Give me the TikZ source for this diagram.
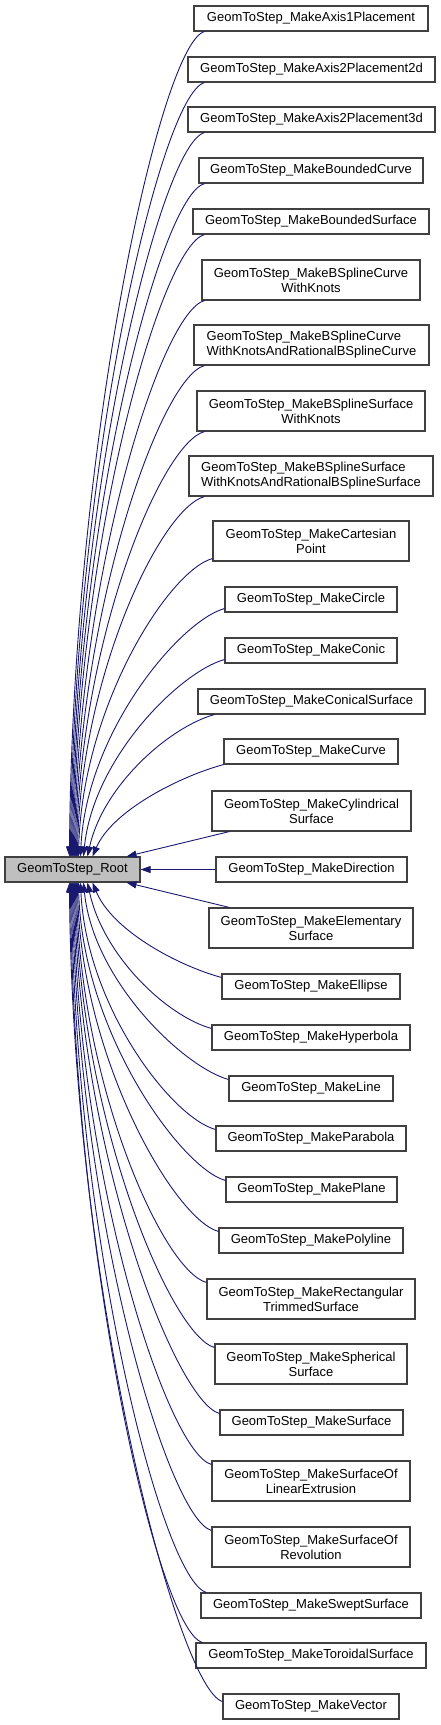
\documentclass[tikz,border=0pt]{standalone}
\usepackage{fontspec}
\setmainfont{Liberation Sans}
\usetikzlibrary{arrows.meta,calc}
\definecolor{edgeblue}{RGB}{25,25,112}
\definecolor{boxline}{RGB}{64,64,64}
\definecolor{rootfill}{RGB}{191,191,191}
\newcommand{\gbox}[7][]{\node[box,#1,minimum width={(#4-#3)*1pt},minimum height={(#6-#5)*1pt}] (#2) at ({(#3+#4)/2},{(#5+#6)/2}) {#7};}
\begin{document}
\begin{tikzpicture}[x=1pt,y=-1pt,
  box/.style={draw=boxline,line width=1.1pt,fill=white,inner sep=0pt,align=center,font=\fontsize{13}{15}\selectfont},
  rootbox/.style={box,fill=rootfill},
  edge/.style={draw=edgeblue,line width=0.9pt,-{Triangle[length=10pt,width=7pt]}}]
\useasboundingbox (0,0) rectangle (440,1725);
\gbox[rootbox]{root}{5}{140}{857}{882}{GeomToStep\_Root}
\gbox{a1}{194}{428}{6}{31}{GeomToStep\_MakeAxis1Placement}
\gbox{a2d}{188}{435}{57}{82}{GeomToStep\_MakeAxis2Placement2d}
\gbox{a3d}{188}{435}{107}{132}{GeomToStep\_MakeAxis2Placement3d}
\gbox{bc}{199}{423}{158}{183}{GeomToStep\_MakeBoundedCurve}
\gbox{bs}{193}{429}{209}{234}{GeomToStep\_MakeBoundedSurface}
\gbox{bscwk}{202}{420}{260}{300}{GeomToStep\_MakeBSplineCurve\\WithKnots}
\gbox[align=left]{bscr}{194}{429}{325}{365}{GeomToStep\_MakeBSplineCurve\\WithKnotsAndRationalBSplineCurve}
\gbox{bsswk}{197}{425}{391}{431}{GeomToStep\_MakeBSplineSurface\\WithKnots}
\gbox[align=left]{bssr}{189}{433}{456}{496}{GeomToStep\_MakeBSplineSurface\\WithKnotsAndRationalBSplineSurface}
\gbox{cp}{213}{409}{521}{561}{GeomToStep\_MakeCartesian\\Point}
\gbox{circ}{225}{397}{587}{612}{GeomToStep\_MakeCircle}
\gbox{conic}{225}{397}{638}{663}{GeomToStep\_MakeConic}
\gbox{cs}{198}{425}{689}{714}{GeomToStep\_MakeConicalSurface}
\gbox{curve}{224}{398}{739}{764}{GeomToStep\_MakeCurve}
\gbox{cyl}{212}{411}{791}{831}{GeomToStep\_MakeCylindrical\\Surface}
\gbox{dir}{216}{407}{857}{882}{GeomToStep\_MakeDirection}
\gbox{elem}{209}{413}{908}{948}{GeomToStep\_MakeElementary\\Surface}
\gbox{ell}{222}{400}{974}{999}{GeomToStep\_MakeEllipse}
\gbox{hyp}{212}{410}{1025}{1050}{GeomToStep\_MakeHyperbola}
\gbox{line}{229}{393}{1076}{1101}{GeomToStep\_MakeLine}
\gbox{par}{216}{406}{1126}{1151}{GeomToStep\_MakeParabola}
\gbox{plane}{226}{397}{1177}{1202}{GeomToStep\_MakePlane}
\gbox{poly}{219}{403}{1228}{1253}{GeomToStep\_MakePolyline}
\gbox{rts}{207}{415}{1279}{1319}{GeomToStep\_MakeRectangular\\TrimmedSurface}
\gbox{sph}{215}{407}{1344}{1384}{GeomToStep\_MakeSpherical\\Surface}
\gbox{surf}{220}{403}{1410}{1435}{GeomToStep\_MakeSurface}
\gbox{sle}{212}{410}{1461}{1501}{GeomToStep\_MakeSurfaceOf\\LinearExtrusion}
\gbox{sor}{212}{410}{1527}{1567}{GeomToStep\_MakeSurfaceOf\\Revolution}
\gbox{swept}{201}{421}{1593}{1618}{GeomToStep\_MakeSweptSurface}
\gbox{tor}{196}{426}{1643}{1668}{GeomToStep\_MakeToroidalSurface}
\gbox{vec}{223}{399}{1694}{1719}{GeomToStep\_MakeVector}
% edges from boxes above the root
\foreach \n/\dx/\dy/\ex/\cx/\h in {a1/11/0/65/3/413, a2d/17/0/66/3/388, a3d/17/0/67/3/362,
  bc/6/0/68/3/337, bs/12/0/69/3/312, bscwk/3/0/70/3/279, bscr/11/0/71/3/246,
  bsswk/8/0/72/3/214, bssr/16/0/73/3/180, cp/0/-3/74/4/150, circ/0/-4/76/6/125,
  conic/0/-4/79/10/99, cs/17/0/83/16/72, curve/0/0/88/20/46}
  \draw[edge] ($(\n.south west)+(\dx,\dy)$) .. controls +(-44,12) and +(\cx,-\h) .. ($(root.north west)+(\ex,0)$);
% edges from boxes below the root
\foreach \n/\dx/\dy/\ex/\cx/\h in {ell/0/4/88/20/48, hyp/0/4/83/16/74, line/0/4/79/10/99,
  par/0/4/76/6/124, plane/0/4/74/4/150, poly/0/4/73/3/175, rts/0/4/72/3/200,
  sph/0/4/71/3/233, surf/0/4/70/3/266, sle/0/4/69/3/292, sor/0/4/68/3/324,
  swept/6/0/67/3/356, tor/7/0/66/3/380, vec/0/8/65/3/410}
  \draw[edge] ($(\n.north west)+(\dx,\dy)$) .. controls +(-44,-12) and +(\cx,\h) .. ($(root.south west)+(\ex,0)$);
% nearly straight edges
\draw[edge] ($(cyl.south west)+(18,0)$) -- ($(root.north east)+(-14,0)$);
\draw[edge] (dir.west) -- (root.east);
\draw[edge] ($(elem.north west)+(21,0)$) -- ($(root.south east)+(-14,0)$);
\end{tikzpicture}
\end{document}
